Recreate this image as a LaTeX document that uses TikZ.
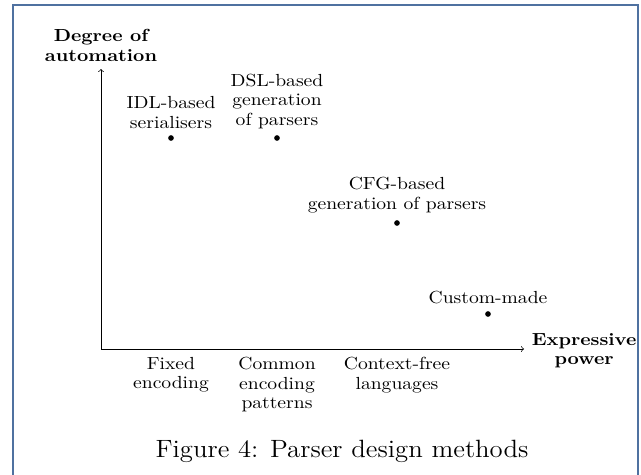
\documentclass[tikz,border=0pt]{standalone}
\usepackage{fontspec}
\usetikzlibrary{arrows,positioning}
\newfontfamily\lblfamily[FakeStretch=1.12,BoldFont=lmroman10-bold.otf]{lmroman10-regular.otf}
\newfontfamily\capfamily[FakeStretch=1.07]{lmroman12-regular.otf}
\newcommand{\lblfont}{\lblfamily\fontsize{10.5}{11.7}\selectfont}
\newcommand{\capfont}{\capfamily\fontsize{15}{18}\selectfont}
\definecolor{framecol}{RGB}{79,113,160}

\begin{document}
\begin{tikzpicture}[x=0.6pt,y=-0.6pt,
    dot/.style={circle,fill,inner sep=0pt,minimum size=3.4pt},
    lbl/.style={align=center,inner sep=1pt,font=\lblfont},
    axlbl/.style={align=center,inner sep=1pt,font=\lblfont\bfseries}]
    \useasboundingbox (0,0) rectangle (641,475);

    %Frame
    \draw[framecol,line width=1pt] (13,480) |- (638,5) -- (638,480);

    %Axes
    \coordinate (o) at (101,349);
    \coordinate (ytop) at (101,69);
    \coordinate (xend) at (524,349);
    \draw[->] (o) -- (ytop);
    \draw[->] (o) -- (xend);
    \node[axlbl,above=3.5pt of ytop] (ylab) {Degree of\\automation};
    \node[axlbl,right=3.5pt of xend,yshift=-1pt] (xlab) {Expressive\\power};

    %Methods
    \node[dot] (idl) at (171,138) {};
    \node[dot] (dsl) at (277,138) {};
    \node[dot] (cfg) at (397,223) {};
    \node[dot] (cst) at (488,314) {};
    \node[lbl,above=2.5pt of idl] (idl-l) {IDL-based\\serialisers};
    \node[lbl,above=2.5pt of dsl] (dsl-l) {DSL-based\\generation\\of parsers};
    \node[lbl,above=3pt of cfg] (cfg-l) {CFG-based\\generation of parsers};
    \node[lbl,above=3pt of cst] (cst-l) {Custom-made};

    %Languages
    \coordinate (t1) at (171,349);
    \coordinate (t2) at (277,349);
    \coordinate (t3) at (397,349);
    \node[lbl,below=3.8pt of t1] (fix) {Fixed\\encoding};
    \node[lbl,below=3.8pt of t2] (com) {Common\\encoding\\patterns};
    \node[lbl,below=3.8pt of t3] (ctx) {Context-free\\languages};

    \node[anchor=base,font=\capfont] (caption) at (342,457) {Figure 4: Parser design methods};
\end{tikzpicture}
\end{document}
